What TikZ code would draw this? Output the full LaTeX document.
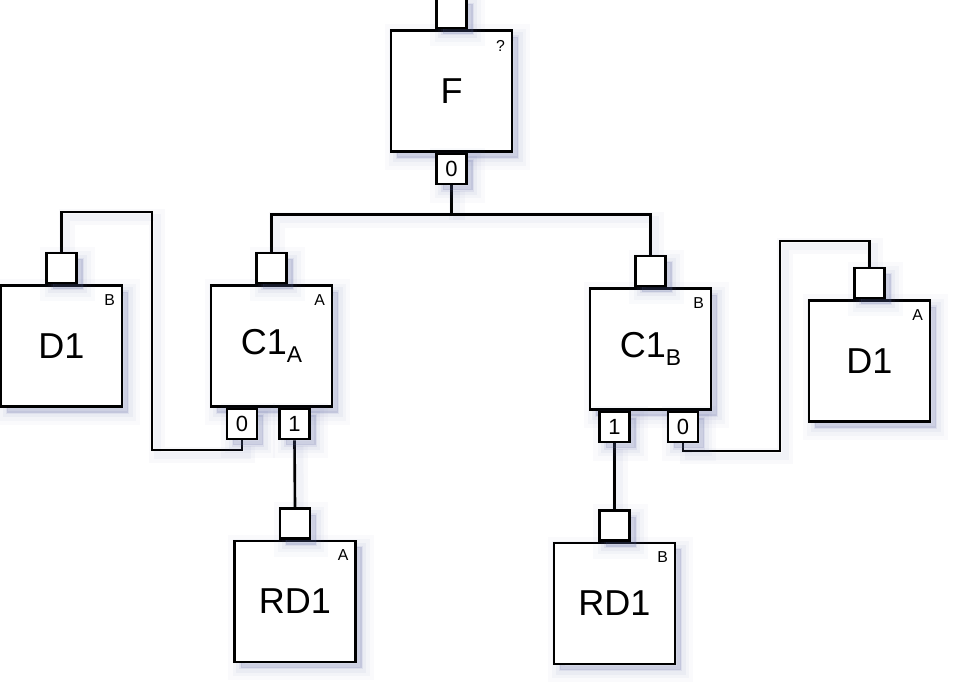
\documentclass[tikz,border=0pt]{standalone}
\usepackage{fontspec}
\setmainfont{Liberation Sans}
\usetikzlibrary{positioning,calc,shadows,backgrounds}
\definecolor{shade}{HTML}{5A64A0}

\begin{document}
\begin{tikzpicture}[
    x=0.02cm, y=-0.02cm,
    line width=1.5pt,
    softshadow/.style = {
      general shadow={fill=shade, draw=shade, opacity=.03, line width=14pt,
                      shadow xshift=3.5pt, shadow yshift=-3.5pt},
      general shadow={fill=shade, draw=shade, opacity=.04, line width=9pt,
                      shadow xshift=3.5pt, shadow yshift=-3.5pt},
      general shadow={fill=shade, draw=shade, opacity=.06, line width=5pt,
                      shadow xshift=3.5pt, shadow yshift=-3.5pt},
      general shadow={fill=shade, draw=shade, opacity=.09, line width=1.5pt,
                      shadow xshift=3.5pt, shadow yshift=-3.5pt}},
    block/.style  = {draw, fill=white, softshadow, minimum width=2.42cm,
                     minimum height=2.42cm, inner sep=0pt,
                     font=\fontsize{20.5}{24}\selectfont},
    port/.style   = {draw, fill=white, softshadow, minimum width=0.6cm,
                     minimum height=0.6cm, inner sep=0pt,
                     font=\fontsize{12.5}{14}\selectfont},
    tag/.style    = {font=\fontsize{9}{10}\selectfont, inner sep=0pt,
                     anchor=north east},
    wire/.style   = {draw, line width=1.5pt,
                     preaction={draw=shade, opacity=.04, line width=9pt,
                                transform canvas={shift={(3pt,-3pt)}}},
                     preaction={draw=shade, opacity=.05, line width=4pt,
                                transform canvas={shift={(3pt,-3pt)}}}},
  ]
  \useasboundingbox (0,0) rectangle (966,699);

  % ===================================================================
  % Blocks
  % ===================================================================
  \node[block] (f)    at (451.5,91)  {F};
  \node[block] (d1l)  at (61.5,346)  {D1};
  \node[block] (c1a)  at (271.5,346)
    {C1\raisebox{-4.5pt}{\fontsize{13}{13}\selectfont A}};
  \node[block] (c1b)  at (650.5,349)
    {C1\raisebox{-4.5pt}{\fontsize{13}{13}\selectfont B}};
  \node[block] (d1r)  at (869.5,361) {D1};
  \node[block] (rd1a) at (295,601.5) {RD1};
  \node[block] (rd1b) at (614.5,603.5) {RD1};

  % corner tags
  \node[tag] at ($(f.north east)+(-7,10)$)    {?};
  \node[tag] at ($(d1l.north east)+(-7,9)$)   {B};
  \node[tag] at ($(c1a.north east)+(-7,9)$)   {A};
  \node[tag] at ($(c1b.north east)+(-7,9)$)   {B};
  \node[tag] at ($(d1r.north east)+(-7,9)$)   {A};
  \node[tag] at ($(rd1a.north east)+(-7,9)$)  {A};
  \node[tag] at ($(rd1b.north east)+(-7,9)$)  {B};

  % ===================================================================
  % Ports: inputs on top, numbered outputs below
  % ===================================================================
  \node[port, anchor=south] (f-in)    at (f.north)    {};
  \node[port, anchor=south] (d1l-in)  at (d1l.north)  {};
  \node[port, anchor=south] (c1a-in)  at (c1a.north)  {};
  \node[port, anchor=south] (c1b-in)  at (c1b.north)  {};
  \node[port, anchor=south] (d1r-in)  at (d1r.north)  {};
  \node[port, anchor=south] (rd1a-in) at (rd1a.north) {};
  \node[port, anchor=south] (rd1b-in) at (rd1b.north) {};

  \node[port, anchor=north] (f-out)  at (f.south) {0};
  \node[port, anchor=north] (c1a-o0) at ($(c1a.south)+(-29.5,0)$) {0};
  \node[port, anchor=north] (c1a-o1) at ($(c1a.south)+(23,0)$)    {1};
  \node[port, anchor=north] (c1b-o1) at ($(c1b.south)+(-36,0)$)   {1};
  \node[port, anchor=north] (c1b-o0) at ($(c1b.south)+(32.5,0)$)  {0};

  % ===================================================================
  % Wires (behind the blocks)
  % ===================================================================
  \coordinate (fj)  at ($(f-out.south)+(0,29)$);
  \coordinate (lb1) at (152,212);
  \coordinate (lb2) at (152,450);
  \coordinate (rb1) at (780,451);
  \coordinate (rb2) at (780,241);

  \begin{scope}[on background layer]
    \draw[wire] (f-out.south) -- (fj);
    \draw[wire] (c1a-in.north) |- (fj) -| (c1b-in.north);
    \draw[wire] (d1l-in.north) |- (lb1) -- (lb2) -| (c1a-o0.south);
    \draw[wire] (c1a-o1.south) -- (rd1a-in.north);
    \draw[wire] (c1b-o1.south) -- (rd1b-in.north);
    \draw[wire] (c1b-o0.south) |- (rb1) -- (rb2) -| (d1r-in.north);
  \end{scope}

\end{tikzpicture}
\end{document}
